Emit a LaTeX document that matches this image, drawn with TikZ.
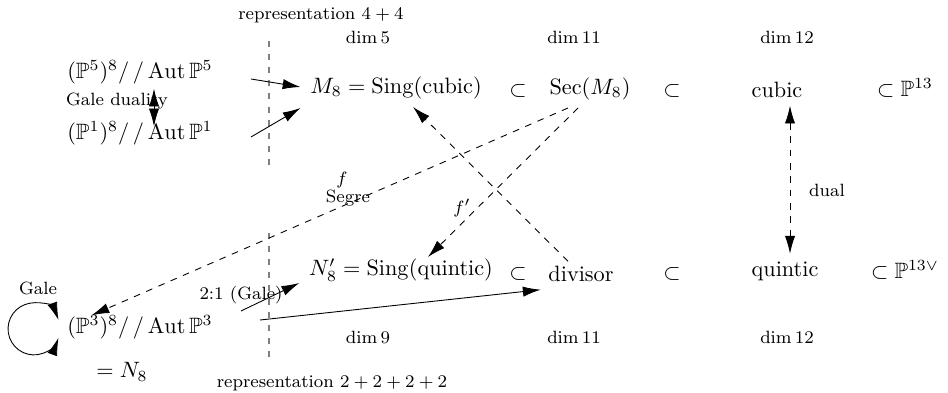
\documentclass[tikz,border=0pt]{standalone}
\usepackage{amsmath,amssymb}
\usetikzlibrary{arrows.meta,calc}
\begin{document}
\begin{tikzpicture}[x=0.45pt,y=-0.45pt,
  lab/.style={font=\footnotesize, inner sep=1pt},
  arr/.style={-{Latex[length=8pt,width=4.6pt]}},
  dbl/.style={{Latex[length=8pt,width=4.6pt]}-{Latex[length=8pt,width=4.6pt]}},
  darr/.style={arr, dashed},
  ddbl/.style={dbl, dashed},
  sepline/.style={draw=gray, line width=0.5pt, dash pattern=on 2.7pt off 3.2pt}]
\useasboundingbox (0,0) rectangle (948,392);
% top labels
\node[lab] (rep1) at (321,15) {representation $4+4$};
\node[lab] (d5) at (368,37) {$\dim 5$};
\node[lab] (d11a) at (574,37) {$\dim 11$};
\node[lab] (d12a) at (787,37) {$\dim 12$};
% left column
\node (p5) at (140,72) {$(\mathbb{P}^5)^8/\,/\operatorname{Aut}\mathbb{P}^5$};
\node (p1) at (140,133) {$(\mathbb{P}^1)^8/\,/\operatorname{Aut}\mathbb{P}^1$};
\node[lab] (gale) at (117,101) {Gale duality};
\node (p3) at (140,327) {$(\mathbb{P}^3)^8/\,/\operatorname{Aut}\mathbb{P}^3$};
\node (n8eq) at (122,372) {$=N_8$};
\node[lab] (galel) at (38,288) {Gale};
% row 1
\node (m8) at (396,88) {$M_8=\operatorname{Sing}(\text{cubic})$};
\node (s1) at (518,91) {$\subset$};
\node (sec) at (590,89) {$\operatorname{Sec}(M_8)$};
\node (s2) at (672,91) {$\subset$};
\node (cubic) at (777,90) {cubic};
\node (p13) at (905,88) {$\subset\mathbb{P}^{13}$};
% row 2
\node (n8) at (401,270) {$N_8'=\operatorname{Sing}(\text{quintic})$};
\node (s3) at (518,274) {$\subset$};
\node (div) at (581,274) {divisor};
\node (s4) at (672,274) {$\subset$};
\node (quintic) at (785,271) {quintic};
\node (p13d) at (905,270) {$\subset\mathbb{P}^{13\vee}$};
% bottom labels
\node[lab] (d9) at (368,337) {$\dim 9$};
\node[lab] (d11b) at (574,337) {$\dim 11$};
\node[lab] (d12b) at (787,337) {$\dim 12$};
\node[lab] (rep2) at (332,383) {representation $2+2+2+2$};
% edge labels
\node[lab] (twoone) at (241,295) {2:1 (Gale)};
\node[lab] (fl) at (342,180) {$f$};
\node[lab] (segre) at (348,198) {Segre};
\node[lab] (fpl) at (462,208) {$f'$};
\node[lab] (dual) at (827,190) {dual};
% separators
\draw[sepline] (269,41) -- (269,165);
\draw[sepline] (269,233) -- (269,360);
% solid arrows
\coordinate (a1) at (251,79);
\coordinate (a2) at (251,137);
\coordinate (a3) at (241,311);
\coordinate (a4) at (260,320);
\draw[arr] (a1) -- ($(m8.west)+(-2,-1)$);
\draw[arr] (a2) -- ($(m8.west)+(-2,20)$);
\draw[arr] (a3) -- ($(n8.west)+(-2,13)$);
\draw[arr] (a4) -- (div.south west);
\draw[dbl] ($(p5.south)+(14,-3)$) -- ($(p1.north)+(14,13)$);
\draw[dbl] ($(p3.west)+(-1,-7)$) arc[start angle=-20, end angle=-340, radius=26];
% dashed arrows
\draw[darr] ($(sec.south)+(-22,0)$) -- ($(p3.north west)+(32,8)$);
\draw[darr] ($(sec.south)+(-12,0)$) -- ($(n8.north)+(27,6)$);
\draw[darr] ($(div.north)+(-13,3)$) -- ($(m8.south)+(17,0)$);
\draw[ddbl] ($(cubic.south)+(13,0)$) -- ($(quintic.north)+(5,0)$);
\end{tikzpicture}
\end{document}
